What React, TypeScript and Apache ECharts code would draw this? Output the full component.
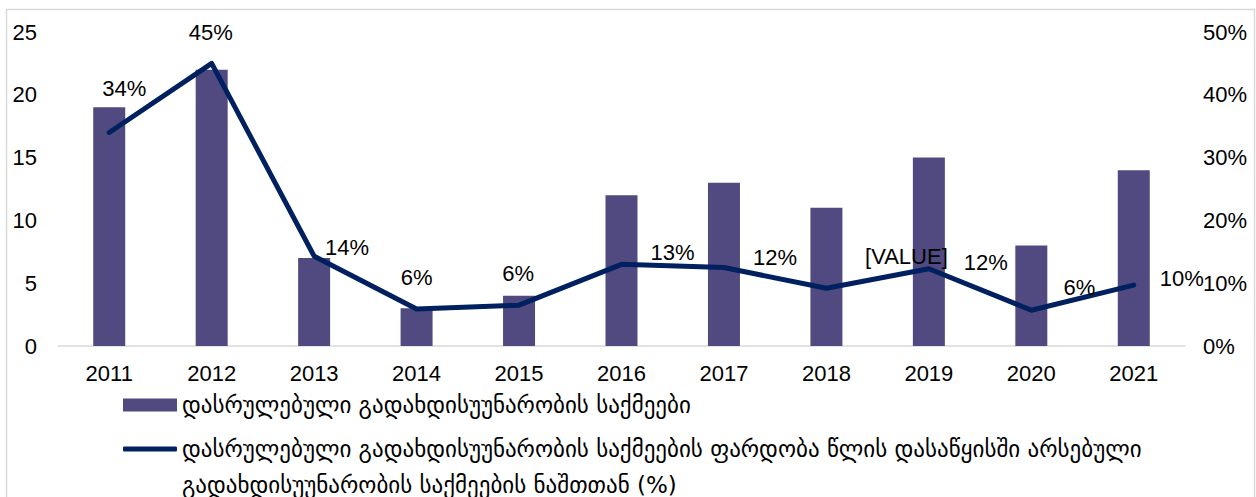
import React, { useEffect, useRef } from "react";
import * as echarts from "echarts";

const categories = ["2011", "2012", "2013", "2014", "2015", "2016", "2017", "2018", "2019", "2020", "2021"];
const completedCases = [19, 22, 7, 3, 4, 12, 13, 11, 15, 8, 14];
const completedRatio = [0.34, 0.45, 0.143, 0.059, 0.065, 0.13, 0.125, 0.092, 0.123, 0.057, 0.097];
const ratioLabels = ["34%", "45%", "14%", "6%", "6%", "13%", "12%", "[VALUE]", "12%", "6%", "10%"];
const leftTicks = { min: 0, max: 25, interval: 5 };
const rightTicks = { min: 0, max: 0.5, interval: 0.1 };

const barName = "დასრულებული გადახდისუუნარობის საქმეები";
const lineName =
  "დასრულებული გადახდისუუნარობის საქმეების ფარდობა წლის დასაწყისში არსებული გადახდისუუნარობის საქმეების ნაშთთან (%)";
const lineNameLine1 = "დასრულებული გადახდისუუნარობის საქმეების ფარდობა წლის დასაწყისში არსებული";
const lineNameLine2 = "გადახდისუუნარობის საქმეების ნაშთთან (%)";

// label offsets (style only), relative to each point
const labelOffsets: [number, number][] = [
  [15, -44], [-1, -31], [33, -9], [0, -31], [-1, -32], [51, -12], [51, -10], [80, -32], [57, -6], [48, -23], [48, -7],
];

const FONT = "'Liberation Sans', Arial, sans-serif";
const GEO_FONT = "'DejaVu Sans', sans-serif";

export default function App() {
  const ref = useRef<HTMLDivElement>(null);
  useEffect(() => {
    if (!ref.current) return;
    const chart = echarts.init(ref.current, null, { renderer: "svg" });
    chart.setOption({
      animation: false,
      backgroundColor: "#ffffff",
      textStyle: { fontFamily: FONT },
      grid: { left: 58, right: 71, top: 32, bottom: 151 },
      graphic: [
        {
          type: "rect",
          shape: { x: 6.5, y: 9.5, width: 1248, height: 520 },
          style: { fill: "none", stroke: "#D9D9D9", lineWidth: 1.5 },
          silent: true,
        },
      ],
      legend: [
        {
          left: 123,
          top: 392,
          padding: 0,
          orient: "vertical",
          itemWidth: 54,
          itemHeight: 13,
          icon: "rect",
          data: [barName],
          textStyle: { fontFamily: GEO_FONT, fontSize: 23, lineHeight: 26, color: "#000" },
        },
        {
          left: 123,
          top: 395,
          padding: 0,
          orient: "vertical",
          itemWidth: 54,
          itemHeight: 5,
          icon: "roundRect",
          data: [lineName],
          formatter: () => "\n" + lineNameLine1 + "\n" + lineNameLine2,
          textStyle: { fontFamily: GEO_FONT, fontSize: 23, lineHeight: 36, color: "#000" },
        },
      ],
      xAxis: {
        type: "category",
        data: categories,
        axisLine: { show: true, lineStyle: { color: "#D9D9D9", width: 1.5 } },
        axisTick: { show: false },
        axisLabel: { color: "#000", fontSize: 22, margin: 16, fontFamily: FONT },
      },
      yAxis: [
        {
          type: "value",
          ...leftTicks,
          axisLine: { show: false },
          axisTick: { show: false },
          splitLine: { show: false },
          axisLabel: { color: "#000", fontSize: 22, margin: 21, fontFamily: FONT },
        },
        {
          type: "value",
          ...rightTicks,
          position: "right",
          axisLine: { show: false },
          axisTick: { show: false },
          splitLine: { show: false },
          axisLabel: {
            color: "#000",
            fontSize: 22,
            margin: 18,
            fontFamily: FONT,
            formatter: (v: number) => Math.round(v * 100) + "%",
          },
        },
      ],
      series: [
        {
          name: barName,
          type: "bar",
          data: completedCases,
          barWidth: 32,
          itemStyle: { color: "#514A80" },
        },
        {
          name: lineName,
          type: "line",
          yAxisIndex: 1,
          data: completedRatio.map((v, i) => ({
            value: v,
            label: { offset: labelOffsets[i] },
          })),
          symbol: "circle",
          symbolSize: 1,
          showSymbol: true,
          itemStyle: { color: "#002060" },
          lineStyle: { color: "#002060", width: 5, cap: "round", join: "round" },
          label: {
            show: true,
            position: "inside",
            color: "#000",
            fontSize: 22,
            fontFamily: FONT,
            formatter: (p: any) => ratioLabels[p.dataIndex],
          },
          z: 3,
        },
      ],
    });
    return () => chart.dispose();
  }, []);
  return (
    <div
      ref={ref}
      style={{ position: "fixed", left: 0, top: 0, width: 1256, height: 497 }}
    />
  );
}
